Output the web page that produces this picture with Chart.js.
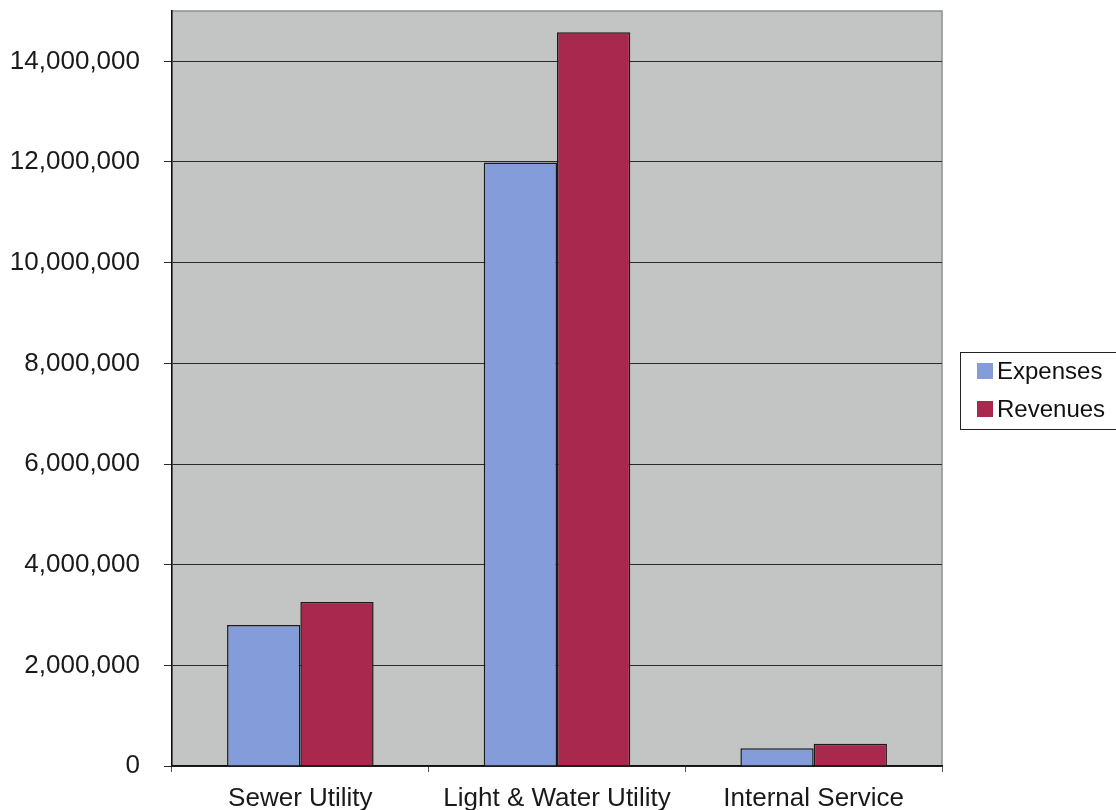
<!DOCTYPE html>
<html>
<head>
<meta charset="utf-8">
<script src="https://cdn.jsdelivr.net/npm/chart.js@4/dist/chart.umd.min.js"></script>
<style>
  html, body { margin: 0; padding: 0; background: #ffffff; }
  #wrap { width: 1116px; height: 810px; position: relative; }
</style>
</head>
<body>
<div id="wrap"><canvas id="c" width="1116" height="810"></canvas></div>
<script>
// Fund categories and yearly totals
const categories = ['Sewer Utility', 'Light & Water Utility', 'Internal Service'];
const expenses = [2800000, 11990000, 355000];
const revenues = [3260000, 14580000, 440000];
const seriesNames = ['Expenses', 'Revenues'];
const yTickValues = [0, 2000000, 4000000, 6000000, 8000000, 10000000, 12000000, 14000000];

const FONT = '"Liberation Sans", Arial, sans-serif';
const BLUE = '#859cda';
const RED = '#a8294d';

// Grey plot background with a light frame
const plotBackground = {
  id: 'plotBackground',
  beforeDraw(chart) {
    const { ctx, chartArea: a } = chart;
    ctx.save();
    ctx.fillStyle = '#c2c5c3';
    ctx.fillRect(a.left, a.top, a.right - a.left, a.bottom - a.top);
    ctx.strokeStyle = '#8f8f8f';
    ctx.lineWidth = 1.5;
    ctx.strokeRect(a.left, a.top, a.right - a.left, a.bottom - a.top);
    ctx.restore();
  }
};

// Boxed legend to the right of the plot
const boxLegend = {
  id: 'boxLegend',
  afterDraw(chart) {
    const { ctx } = chart;
    const x = 960.5, y = 352.5, w = 170, h = 77;
    ctx.save();
    ctx.fillStyle = '#ffffff';
    ctx.fillRect(x, y, w, h);
    ctx.strokeStyle = '#222';
    ctx.lineWidth = 1;
    ctx.strokeRect(x, y, w, h);
    ctx.font = '24px ' + FONT;
    ctx.textBaseline = 'middle';
    chart.data.datasets.forEach((ds, i) => {
      const cy = 371 + i * 38;
      ctx.fillStyle = ds.backgroundColor;
      ctx.fillRect(977, cy - 8, 16, 16);
      ctx.fillStyle = '#111';
      ctx.fillText(ds.label, 997, cy + 1);
    });
    ctx.restore();
  }
};

new Chart(document.getElementById('c'), {
  type: 'bar',
  data: {
    labels: categories,
    datasets: [
      { label: seriesNames[0], data: expenses, backgroundColor: BLUE, borderColor: '#1b1b1b', borderWidth: 1.5,
        categoryPercentage: 0.571, barPercentage: 1.0 },
      { label: seriesNames[1], data: revenues, backgroundColor: RED, borderColor: '#1b1b1b', borderWidth: 1.5,
        categoryPercentage: 0.571, barPercentage: 1.0 }
    ]
  },
  options: {
    responsive: false,
    animation: false,
    layout: { padding: { top: 11, right: 174, left: 0, bottom: 0 } },
    plugins: {
      legend: { display: false },
      tooltip: { enabled: false }
    },
    scales: {
      x: {
        grid: { display: true, drawOnChartArea: false, drawTicks: true, tickLength: 6, color: '#555', offset: true },
        border: { display: true, color: '#111', width: 1.5 },
        ticks: { color: '#1a1a1a', font: { family: FONT, size: 26 }, padding: 11, maxRotation: 0 },
        afterFit(scale) { scale.height = 44; scale.paddingLeft = 0; scale.paddingRight = 0; }
      },
      y: {
        min: 0,
        max: 15000000,
        afterBuildTicks(scale) {
          scale.ticks = yTickValues.map(v => ({ value: v }));
        },
        grid: { color: '#2a2a2a', lineWidth: 1, tickLength: 8, drawTicks: true },
        border: { display: true, color: '#111', width: 1.5 },
        ticks: {
          color: '#1a1a1a',
          font: { family: FONT, size: 26 },
          padding: 24,
          callback: v => Number(v).toLocaleString('en-US')
        },
        afterFit(scale) { scale.width = 172; scale.paddingTop = 0; scale.paddingBottom = 0; }
      }
    }
  },
  plugins: [plotBackground, boxLegend]
});
</script>
</body>
</html>
